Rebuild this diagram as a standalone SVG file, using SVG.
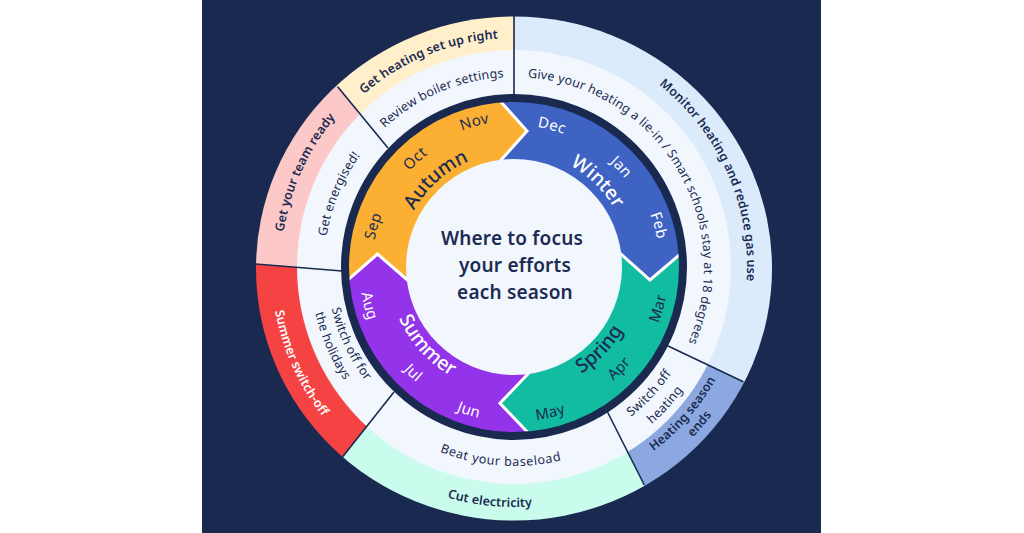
<svg xmlns="http://www.w3.org/2000/svg" width="1024" height="533" viewBox="0 0 1024 533">
<style>
text{font-family:"Noto Sans","Lato",sans-serif;fill:#1b2b52;text-anchor:middle}
.o{font-size:12.5px;font-weight:600;letter-spacing:.1px}
.b{font-size:12.5px;font-weight:400;letter-spacing:.2px}
.m{font-size:15px;font-weight:400;letter-spacing:.3px}
.s{font-size:19.5px;font-weight:500}
.w{fill:#fff}
.c{font-size:19px;font-weight:600;letter-spacing:.2px}
.sep{fill:none;stroke:#fff;stroke-width:3}
.div{stroke:#19294f;stroke-width:1.6;fill:none}
</style>
<defs>
<clipPath id="clipOuter"><ellipse cx="514" cy="268.5" rx="258" ry="252"/></clipPath>
<clipPath id="clipSeason"><circle cx="514" cy="267" r="170"/></clipPath>
<path id="c115" d="M-115 0A115 115 0 0 1 115 0"/>
<path id="c116" d="M-116 0A116 116 0 0 1 116 0"/>
<path id="c142" d="M-142 0A142 142 0 0 1 142 0"/>
<path id="c146" d="M-146 0A146 146 0 0 1 146 0"/>
<path id="c190" d="M-190 0A190 190 0 0 1 190 0"/>
<path id="c229" d="M-229 0A229 229 0 0 1 229 0"/>
<path id="c233" d="M-233 0A233 233 0 0 1 233 0"/>
<path id="a126" d="M-126 0A126 126 0 0 0 126 0"/>
<path id="a151" d="M-151 0A151 151 0 0 0 151 0"/>
<path id="a155" d="M-155 0A155 155 0 0 0 155 0"/>
<path id="a187" d="M-187 0A187 187 0 0 0 187 0"/>
<path id="a190" d="M-190 0A190 190 0 0 0 190 0"/>
<path id="a199" d="M-199 0A199 199 0 0 0 199 0"/>
<path id="a204" d="M-204 0A204 204 0 0 0 204 0"/>
<path id="a209" d="M-209 0A209 209 0 0 0 209 0"/>
<path id="a231" d="M-231 0A231 231 0 0 0 231 0"/>
<path id="a240" d="M-240 0A240 240 0 0 0 240 0"/>
<path id="a243" d="M-243 0A243 243 0 0 0 243 0"/>
<path id="a247" d="M-247 0A247 247 0 0 0 247 0"/>
</defs>
<rect width="1024" height="533" fill="#fff"/>
<rect x="202" width="619" height="533" fill="#19294f"/>
<g id="seg-heating-setup">
<polygon clip-path="url(#clipOuter)" fill="#fff0cb" points="514,96 514,-20 288,-20 288,27 388,148"/>
<text class="o" transform="translate(514 267) rotate(-22.5)"><textPath href="#c229" startOffset="50%">Get heating set up right</textPath></text>
</g>
<g id="seg-monitor">
<polygon clip-path="url(#clipOuter)" fill="#dcebfc" points="514,96 514,-20 830,-20 830,417.4 818.3,417.4 667,345.5"/>
<text class="o" transform="translate(514 267) rotate(66)"><textPath href="#c233" startOffset="50%">Monitor heating and reduce gas use</textPath></text>
</g>
<g id="seg-season-ends">
<polygon clip-path="url(#clipOuter)" fill="#8ca8e0" points="667,345.5 818.3,417.4 818,557 680.3,556.7 607.5,412"/>
<text class="o" transform="translate(514 267) rotate(-49)"><textPath href="#a231" startOffset="50%">Heating season</textPath></text>
<text class="o" transform="translate(514 267) rotate(-49.8)"><textPath href="#a247" startOffset="50%">ends</textPath></text>
</g>
<g id="seg-cut-electricity">
<polygon clip-path="url(#clipOuter)" fill="#c9fcec" points="607.5,412 680.3,556.7 292,557 292,520 394,392"/>
<text class="o" transform="translate(514 267) rotate(5.9)"><textPath href="#a240" startOffset="50%">Cut electricity</textPath></text>
</g>
<g id="seg-summer-switch-off">
<polygon clip-path="url(#clipOuter)" fill="#f54343" points="394,392 292,520 170,520 170.7,257 342,271"/>
<text class="o w" transform="translate(514 267) rotate(65.8)"><textPath href="#a243" startOffset="50%">Summer switch-off</textPath></text>
</g>
<g id="seg-team-ready">
<polygon clip-path="url(#clipOuter)" fill="#fcc8c8" points="342,271 170.7,257 170,27 288,27 388,148"/>
<text class="o" transform="translate(514 267) rotate(-65.7)"><textPath href="#c233" startOffset="50%">Get your team ready</textPath></text>
</g>
<circle id="inner-band" cx="514" cy="267" r="217" fill="#f2f6fd"/>
<g id="connectors">
<line class="div" x1="514" y1="16" x2="514" y2="96"/>
<line class="div" x1="337.7" y1="86.7" x2="388" y2="148"/>
<line class="div" x1="255.7" y1="264" x2="342" y2="271"/>
<line class="div" x1="342.7" y1="456.7" x2="394" y2="392"/>
<line class="div" x1="644.3" y1="485" x2="607.5" y2="412"/>
<line class="div" x1="743.3" y1="381.7" x2="667" y2="345.5"/>
</g>
<g id="band-review"><text class="b" transform="translate(514 267) rotate(-23)"><textPath href="#c190" startOffset="50%">Review boiler settings</textPath></text></g>
<g id="band-energised"><text class="b" transform="translate(514 267) rotate(-67.4)"><textPath href="#c190" startOffset="50%">Get energised!</textPath></text></g>
<g id="band-lie-in"><text class="b" transform="translate(514 267) rotate(58.8)"><textPath href="#c190" startOffset="50%">Give your heating a lie-in / Smart schools stay at 18 degrees</textPath></text></g>
<g id="band-holidays">
<text class="b" transform="translate(514 267) rotate(64.8)"><textPath href="#a187" startOffset="50%">Switch off for</textPath></text>
<text class="b" transform="translate(514 267) rotate(66.6)"><textPath href="#a204" startOffset="50%">the holidays</textPath></text>
</g>
<g id="band-baseload"><text class="b" style="letter-spacing:.6px" transform="translate(514 267) rotate(4)"><textPath href="#a199" startOffset="50%">Beat your baseload</textPath></text></g>
<g id="band-switch-off">
<text class="b" transform="translate(514 267) rotate(-47)"><textPath href="#a190" startOffset="50%">Switch off</textPath></text>
<text class="b" transform="translate(514 267) rotate(-47.6)"><textPath href="#a209" startOffset="50%">heating</textPath></text>
</g>
<g id="autumn">
<polygon clip-path="url(#clipSeason)" fill="#fbb034" points="514,267 415,286.5 377.5,254 341,286 330,286 330,80 493,80 493,93 527,131 493,169"/>
<text class="m" transform="translate(514 267) rotate(-15.3)"><textPath href="#c146" startOffset="50%">Nov</textPath></text>
<text class="m" transform="translate(514 267) rotate(-42.4)"><textPath href="#c142" startOffset="50%">Oct</textPath></text>
<text class="m" transform="translate(514 267) rotate(-73.8)"><textPath href="#c142" startOffset="50%">Sep</textPath></text>
<text class="s" transform="translate(514 267) rotate(-41.8)"><textPath href="#c115" startOffset="50%">Autumn</textPath></text>
</g>
<g id="winter">
<polygon clip-path="url(#clipSeason)" fill="#3e63c3" points="514,267 493,169 527,131 493,93 493,80 700,80 700,247.5 688,247.5 650,280 613,247"/>
<text class="m w" transform="translate(514 267) rotate(15)"><textPath href="#c142" startOffset="50%">Dec</textPath></text>
<text class="m w" transform="translate(514 267) rotate(47)"><textPath href="#c142" startOffset="50%">Jan</textPath></text>
<text class="m w" transform="translate(514 267) rotate(74)"><textPath href="#c146" startOffset="50%">Feb</textPath></text>
<text class="s w" transform="translate(514 267) rotate(44.3)"><textPath href="#c116" startOffset="50%">Winter</textPath></text>
</g>
<g id="spring">
<polygon clip-path="url(#clipSeason)" fill="#11bca0" points="514,267 613,247 650,280 688,247.5 700,247.5 700,450 535,450 535,440 500,403.3 535,366.5"/>
<text class="m" transform="translate(514 267) rotate(-74)"><textPath href="#a155" startOffset="50%">Mar</textPath></text>
<text class="m" transform="translate(514 267) rotate(-46)"><textPath href="#a151" startOffset="50%">Apr</textPath></text>
<text class="m" transform="translate(514 267) rotate(-14)"><textPath href="#a155" startOffset="50%">May</textPath></text>
<text class="s" transform="translate(514 267) rotate(-46)"><textPath href="#a126" startOffset="50%">Spring</textPath></text>
</g>
<g id="summer">
<polygon clip-path="url(#clipSeason)" fill="#9333ea" points="514,267 535,366.5 500,403.3 535,440 535,450 330,450 330,286 341,286 377.5,254 415,286.5"/>
<text class="m w" transform="translate(514 267) rotate(17.5)"><textPath href="#a155" startOffset="50%">Jun</textPath></text>
<text class="m w" transform="translate(514 267) rotate(43.6)"><textPath href="#a151" startOffset="50%">Jul</textPath></text>
<text class="m w" transform="translate(514 267) rotate(75)"><textPath href="#a155" startOffset="50%">Aug</textPath></text>
<text class="s w" transform="translate(514 267) rotate(48)"><textPath href="#a126" startOffset="50%">Summer</textPath></text>
</g>
<g id="season-separators" clip-path="url(#clipSeason)">
<polyline class="sep" points="493,93 527,131 493,169"/>
<polyline class="sep" points="688,247.5 650,280 613,247"/>
<polyline class="sep" points="535,440 500,403.3 535,366.5"/>
<polyline class="sep" points="341,286 377.5,254 415,286.5"/>
</g>
<circle id="dark-ring" cx="514" cy="267" r="169" fill="none" stroke="#19294f" stroke-width="8"/>
<g id="centre">
<circle cx="514" cy="267" r="108" fill="#f2f6fd"/>
<text class="c" x="512" y="245">Where to focus</text>
<text class="c" x="515" y="272">your efforts</text>
<text class="c" x="515" y="299">each season</text>
</g>
</svg>
